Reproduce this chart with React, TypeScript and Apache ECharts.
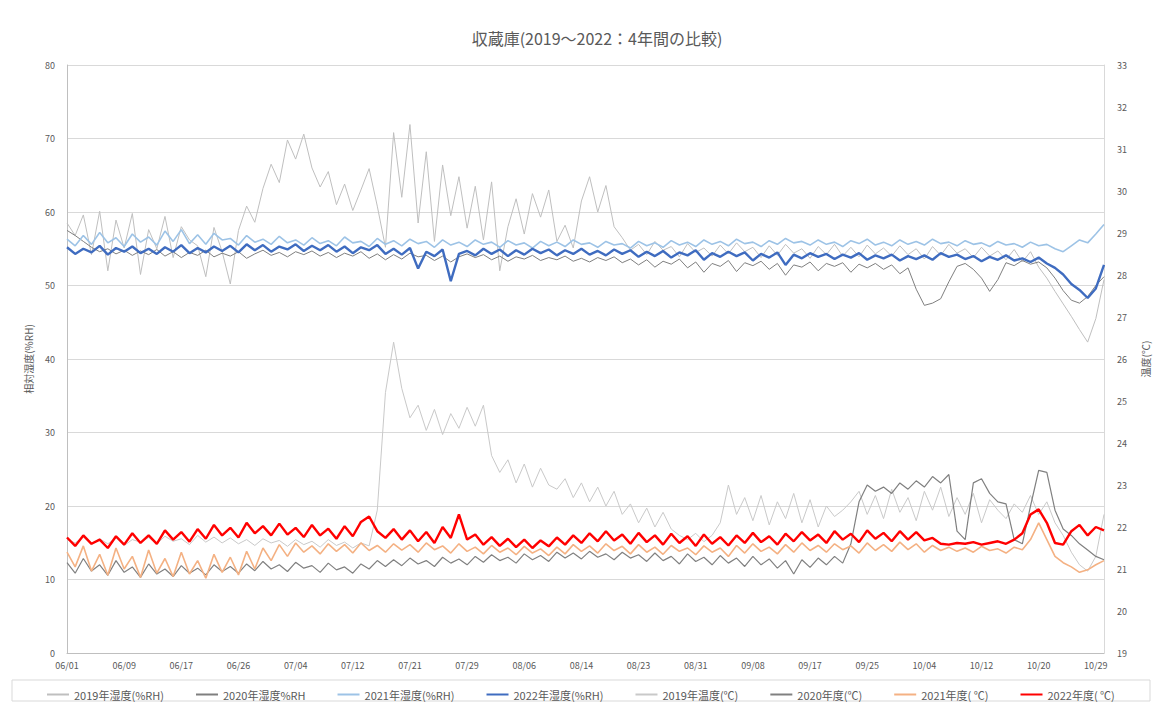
import React, { useEffect, useRef } from "react";
import * as echarts from "echarts";

const tickLabels = ["06/01","06/09","06/17","06/26","07/04","07/12","07/21","07/29","08/06","08/14","08/23","08/31","09/08","09/17","09/25","10/04","10/12","10/20","10/29"];
const POINTS = 128;

const hum2019 = [
  58.5, 56.8, 59.6, 54.2, 60.1, 52.0, 58.9, 55.1, 59.8, 51.5,
  57.6, 55.0, 59.4, 53.8, 58.0, 56.2, 55.4, 51.2, 57.9, 54.6,
  50.2, 57.5, 60.8, 58.6, 63.2, 66.5, 64.0, 69.8, 67.2, 70.6,
  66.0, 63.4, 65.5, 61.0, 63.8, 60.2, 63.0, 65.9, 60.8, 55.2,
  70.8, 62.0, 71.9, 58.5, 68.2, 56.0, 66.4, 59.5, 64.8, 57.8,
  63.5, 56.2, 64.1, 52.0, 58.0, 61.8, 57.0, 62.5, 59.3, 63.0,
  56.0, 58.2, 55.1, 61.5, 64.8, 60.0, 63.6, 58.0, 56.5, 54.8,
  55.6, 54.2, 56.0, 54.8, 55.3, 53.9, 55.7, 54.5, 55.1, 54.0,
  55.5, 54.3, 55.8, 54.6, 55.2, 53.8, 55.4, 54.1, 55.6, 54.4,
  55.0, 53.7, 55.3, 54.2, 55.6, 54.0, 55.2, 53.9, 55.5, 54.3,
  55.1, 54.0, 55.4, 54.2, 55.0, 53.6, 55.3, 54.1, 55.6, 54.4,
  55.0, 53.8, 55.2, 54.0, 54.7, 53.5, 54.9, 53.2, 54.6, 52.5,
  51.0, 49.2, 47.5, 45.8, 44.0, 42.3, 45.5, 50.8
];

const hum2020 = [
  57.5, 56.8, 56.0, 55.2, 54.6, 55.0, 54.3, 54.8, 54.1, 54.7,
  54.2, 54.9, 54.0, 54.6, 53.8, 54.5, 54.1, 54.8, 53.9, 54.4,
  54.0, 54.6, 53.7, 54.3, 54.8, 54.1, 54.5, 53.9, 54.6, 54.2,
  54.7, 54.0, 54.5, 53.8, 54.4, 54.0, 54.6, 53.7, 54.3, 53.5,
  54.2, 53.6, 54.4, 53.9, 54.1, 53.4, 54.0, 53.2, 53.9, 54.3,
  53.8, 54.2, 53.5, 54.0, 53.3, 53.9, 53.6, 54.1, 53.4, 53.8,
  53.5, 54.0, 53.3, 53.7, 53.2, 53.8, 53.4, 53.9, 53.1, 53.6,
  52.8, 53.5, 52.5, 53.3, 52.9, 53.6, 52.4, 53.2, 51.8, 53.0,
  52.6, 53.4, 51.9, 53.1, 52.7, 53.3, 52.2, 53.0, 51.4, 52.8,
  52.5, 53.2, 52.0, 53.0, 52.6, 53.1, 51.8, 52.9, 52.4, 53.0,
  52.2, 52.8, 51.6, 52.4, 49.5, 47.3, 47.6, 48.2, 50.5, 52.6,
  53.0, 52.2, 51.0, 49.2, 50.8, 53.1, 52.7, 53.4, 52.9, 53.2,
  52.4, 51.0, 49.3, 48.0, 47.6, 48.5, 50.0, 51.2
];

const hum2021 = [
  56.3, 55.4, 56.8, 55.6, 57.2, 55.8, 56.5, 55.3, 57.0, 55.9,
  56.6, 55.5, 57.4, 56.0, 57.6, 55.7, 56.9, 55.6, 57.1, 56.2,
  56.4, 55.5, 56.8, 55.9, 56.3, 55.6, 56.7, 55.8, 56.2, 55.5,
  56.5, 55.7, 56.1, 55.4, 56.6, 55.8, 56.0, 55.3, 56.4, 55.6,
  56.1, 55.4, 56.3, 55.7, 56.0, 55.2, 56.2, 55.5, 55.9, 55.3,
  56.2, 55.6, 55.9, 55.2, 56.1, 55.5, 55.8, 55.1, 56.0, 55.4,
  55.9, 55.3, 56.2, 55.6, 55.8, 55.2, 56.0, 55.5, 55.7, 55.1,
  56.0, 55.4, 55.8, 55.2, 56.1, 55.5, 55.9, 55.3, 56.2, 55.6,
  56.0, 55.4, 56.3, 55.7, 55.9, 55.3, 56.1, 55.6, 56.4, 55.8,
  56.0, 55.5, 56.2, 55.6, 55.9, 55.3, 56.1, 55.7, 56.3, 55.5,
  55.9, 55.4, 56.2, 55.6, 56.0, 55.5, 56.3, 55.7, 55.9, 55.4,
  56.1, 55.6, 55.8, 55.3, 56.0, 55.5, 55.7, 55.2, 55.9, 55.4,
  55.6, 55.0, 54.6, 55.4, 56.2, 55.8, 57.0, 58.3
];

const hum2022 = [
  55.2, 54.3, 55.0, 54.5, 55.4, 54.2, 55.1, 54.6, 55.3, 54.4,
  55.0, 54.3, 55.2, 54.6, 55.5, 54.4, 55.1, 54.5, 55.3, 54.7,
  55.4, 54.5, 55.6, 54.8, 55.5, 54.6, 55.3, 54.9, 55.6, 54.7,
  55.4, 54.8, 55.5, 54.6, 55.3, 54.4, 55.2, 54.8, 55.5, 54.3,
  55.0, 54.2, 55.1, 52.3, 54.6, 54.0, 54.9, 50.6, 54.3, 54.7,
  54.1, 55.0, 54.3, 54.9, 54.0, 54.8, 54.2, 55.0, 54.4, 54.9,
  54.1, 54.8, 54.3, 55.0, 54.2, 54.7, 54.1, 54.9, 54.3, 54.8,
  53.9, 54.6, 54.0, 54.7, 53.8, 54.5, 54.1, 54.8, 53.5, 54.4,
  53.9, 54.6, 54.0, 54.5, 53.4, 54.3, 53.8, 54.5, 52.8, 54.2,
  53.7, 54.4, 53.9, 54.3, 53.6, 54.2, 53.8, 54.4, 53.5, 54.1,
  53.7, 54.2, 53.4, 54.0, 53.6, 54.1, 53.5, 54.4, 53.9, 54.2,
  53.6, 54.0, 53.3, 53.9, 53.5, 54.1, 53.4, 53.7, 53.2, 53.8,
  53.0, 52.4, 51.5, 50.2, 49.4, 48.3, 49.6, 52.8
];

const temp2019 = [
  21.70, 21.62, 21.76, 21.58, 21.72, 21.60, 21.74, 21.56, 21.70, 21.64,
  21.75, 21.60, 21.78, 21.66, 21.72, 21.58, 21.80, 21.64, 21.76, 21.62,
  21.74, 21.60, 21.70, 21.56, 21.72, 21.62, 21.68, 21.54, 21.70, 21.58,
  21.66, 21.52, 21.70, 21.56, 21.64, 21.50, 21.62, 21.55, 22.40, 25.20,
  26.40, 25.30, 24.60, 24.90, 24.30, 24.80, 24.20, 24.70, 24.35, 24.85,
  24.40, 24.90, 23.70, 23.30, 23.60, 23.05, 23.50, 22.95, 23.40, 23.00,
  22.90, 23.15, 22.70, 23.05, 22.60, 22.95, 22.50, 22.85, 22.30, 22.55,
  22.10, 22.45, 22.00, 22.35, 21.95, 21.80, 21.70, 21.85, 21.65, 21.80,
  22.10, 23.00, 22.30, 22.70, 22.15, 22.75, 22.05, 22.60, 22.20, 22.80,
  22.10, 22.65, 22.00, 22.50, 22.25, 22.40, 22.60, 22.85, 22.30, 22.75,
  22.20, 22.90, 22.35, 22.70, 22.15, 22.85, 22.40, 22.95, 22.25, 22.70,
  22.30, 22.80, 22.10, 22.65, 22.40, 22.20, 22.55, 22.35, 22.75, 22.30,
  22.60, 22.10, 21.80, 21.40, 21.10, 20.95, 21.30, 22.30
];

const temp2020 = [
  21.15, 20.90, 21.25, 20.95, 21.10, 20.85, 21.20, 20.92, 21.05, 20.80,
  21.12, 20.88, 21.00, 20.82, 21.08, 20.90, 21.02, 20.86, 21.10, 20.94,
  21.06, 20.90, 21.12, 20.96, 21.18, 21.00, 21.10, 20.94, 21.16, 21.02,
  21.08, 20.92, 21.14, 20.98, 21.05, 20.90, 21.12, 21.00, 21.20, 21.06,
  21.22, 21.08, 21.26, 21.12, 21.20, 21.06, 21.28, 21.14, 21.24, 21.10,
  21.30, 21.16, 21.34, 21.20, 21.28, 21.14, 21.36, 21.22, 21.32, 21.18,
  21.40, 21.26, 21.38, 21.24, 21.42, 21.28, 21.36, 21.22, 21.40, 21.26,
  21.34, 21.18, 21.38, 21.20, 21.30, 21.12, 21.36, 21.18, 21.28, 21.10,
  21.32, 21.14, 21.26, 21.06, 21.30, 21.10, 21.24, 21.02, 21.20, 20.88,
  21.22, 21.04, 21.26, 21.10, 21.30, 21.14, 21.60, 22.60, 23.00, 22.85,
  22.95, 22.80, 23.05, 22.90, 23.10, 22.95, 23.20, 23.05, 23.25, 21.90,
  21.70, 23.05, 23.15, 22.80, 22.60, 22.55, 21.70, 21.60, 22.50, 23.35,
  23.30, 22.40, 21.95, 21.80, 21.60, 21.45, 21.30, 21.22
];

const temp2021 = [
  21.40, 21.05, 21.55, 20.95, 21.35, 20.85, 21.50, 21.00, 21.30, 20.80,
  21.45, 20.90, 21.25, 20.82, 21.40, 20.88, 21.20, 20.78, 21.35, 20.92,
  21.28, 20.86, 21.42, 21.00, 21.50, 21.20, 21.58, 21.30, 21.62, 21.40,
  21.55, 21.36, 21.60, 21.42, 21.58, 21.38, 21.62, 21.44, 21.56, 21.40,
  21.60, 21.45, 21.58, 21.40, 21.62, 21.46, 21.55, 21.38, 21.60, 21.42,
  21.52, 21.36, 21.56, 21.40, 21.50, 21.34, 21.54, 21.38, 21.48, 21.32,
  21.52, 21.36, 21.58, 21.42, 21.55, 21.38, 21.60, 21.44, 21.54, 21.36,
  21.58, 21.40, 21.52, 21.35, 21.56, 21.42, 21.50, 21.34, 21.55, 21.40,
  21.50, 21.30, 21.56, 21.38, 21.60, 21.42, 21.52, 21.36, 21.58, 21.40,
  21.62, 21.44, 21.56, 21.40, 21.60, 21.46, 21.55, 21.38, 21.62, 21.44,
  21.58, 21.42, 21.64, 21.46, 21.60, 21.40, 21.56, 21.44, 21.52, 21.42,
  21.50, 21.40, 21.54, 21.44, 21.48, 21.38, 21.52, 21.46, 21.70, 22.10,
  21.70, 21.30, 21.15, 21.05, 20.92, 20.98, 21.10, 21.20
];

const temp2022 = [
  21.75, 21.55, 21.80, 21.60, 21.70, 21.50, 21.78, 21.58, 21.85, 21.62,
  21.80, 21.60, 21.92, 21.70, 21.88, 21.65, 21.95, 21.72, 22.05, 21.80,
  21.98, 21.75, 22.10, 21.85, 22.02, 21.80, 22.08, 21.82, 21.98, 21.76,
  22.05, 21.80, 21.96, 21.72, 22.02, 21.78, 22.12, 22.25, 21.90, 21.74,
  21.95, 21.70, 21.92, 21.66, 21.88, 21.62, 22.00, 21.74, 22.30, 21.70,
  21.82, 21.58, 21.76, 21.55, 21.72, 21.52, 21.70, 21.50, 21.68, 21.54,
  21.75, 21.58, 21.80, 21.62, 21.85, 21.66, 21.90, 21.68, 21.82, 21.60,
  21.86, 21.64, 21.80, 21.58, 21.84, 21.62, 21.78, 21.55, 21.82, 21.60,
  21.76, 21.56, 21.80, 21.62, 21.86, 21.64, 21.78, 21.58, 21.84, 21.66,
  21.88, 21.68, 21.82, 21.62, 21.90, 21.70, 21.84, 21.64, 21.92, 21.72,
  21.86, 21.66, 21.90, 21.70, 21.88, 21.68, 21.74, 21.60, 21.58, 21.62,
  21.60, 21.64, 21.58, 21.62, 21.66, 21.60, 21.70, 21.85, 22.30, 22.42,
  22.10, 21.62, 21.58, 21.90, 22.05, 21.80, 22.00, 21.92
];

const seriesNames = ["2019年湿度(%RH)", "2020年湿度%RH", "2021年湿度(%RH)", "2022年湿度(%RH)", "2019年温度(℃)", "2020年度(℃)", "2021年度( ℃)", "2022年度( ℃)"];
const seriesColors = ["#BFBFBF", "#7F7F7F", "#9DC3E6", "#3F6CC0", "#C9C9C9", "#808080", "#F4B183", "#FF0000"];
const seriesWidths = [1, 1, 1.6, 2.4, 1, 1.2, 1.6, 2.4];
const seriesData = [hum2019, hum2020, hum2021, hum2022, temp2019, temp2020, temp2021, temp2022];

const FONT = "'Noto Sans CJK JP', 'Noto Sans', sans-serif";

export default function App() {
  const ref = useRef<HTMLDivElement>(null);
  useEffect(() => {
    if (!ref.current) return;
    const chart = echarts.init(ref.current, null, { renderer: "svg" });
    const categories: string[] = [];
    for (let i = 0; i < POINTS; i++) {
      const k = Math.floor(i / 7);
      categories.push(i % 7 === 0 ? tickLabels[k] : tickLabels[k] + "+" + (i % 7));
    }
    const option: any = {
      animation: false,
      backgroundColor: "#ffffff",
      textStyle: { fontFamily: FONT },
      title: {
        text: "収蔵庫(2019～2022：4年間の比較)",
        left: 592,
        textAlign: "center",
        top: 25,
        textStyle: { fontSize: 16, fontWeight: "normal", color: "#595959", fontFamily: FONT },
      },
      legend: {
        data: seriesNames,
        left: 42,
        top: 684,
        orient: "horizontal",
        icon: "rect",
        itemWidth: 22,
        itemHeight: 2,
        itemGap: 32,
        textStyle: { fontSize: 11, color: "#595959", fontFamily: FONT },
      },
      graphic: [
        {
          type: "rect",
          shape: { x: 12, y: 680, width: 1138, height: 21 },
          style: { fill: "none", stroke: "#D9D9D9", lineWidth: 1 },
          silent: true,
        },
      ],
      grid: { left: 67, right: 46, top: 65, bottom: 49, containLabel: false },
      xAxis: {
        type: "category",
        data: categories,
        boundaryGap: false,
        axisLine: { show: true, lineStyle: { color: "#BFBFBF" } },
        axisTick: { show: false },
        axisLabel: { interval: 6, fontSize: 9, color: "#595959", margin: 8, fontFamily: FONT },
        splitLine: { show: false },
      },
      yAxis: [
        {
          type: "value",
          min: 0,
          max: 80,
          interval: 10,
          name: "相対湿度(%RH)",
          nameLocation: "middle",
          nameGap: 34,
          nameTextStyle: { fontSize: 10, color: "#595959", fontFamily: FONT },
          axisLine: { show: true, lineStyle: { color: "#BFBFBF" } },
          axisTick: { show: false },
          axisLabel: { fontSize: 9, color: "#595959", margin: 12 },
          splitLine: { show: true, lineStyle: { color: "#D9D9D9", width: 1 } },
        },
        {
          type: "value",
          min: 19,
          max: 33,
          interval: 1,
          name: "温度(℃)",
          nameLocation: "middle",
          nameGap: 36,
          nameTextStyle: { fontSize: 10, color: "#595959", fontFamily: FONT },
          axisLine: { show: true, lineStyle: { color: "#D9D9D9" } },
          axisTick: { show: false },
          axisLabel: { fontSize: 9, color: "#595959", margin: 13 },
          splitLine: { show: false },
        },
      ],
      series: seriesNames.map((n, idx) => ({
        name: n,
        type: "line",
        yAxisIndex: idx < 4 ? 0 : 1,
        data: seriesData[idx],
        symbol: "none",
        showSymbol: false,
        lineStyle: { color: seriesColors[idx], width: seriesWidths[idx] },
        itemStyle: { color: seriesColors[idx] },
        z: 2 + idx,
      })),
    };
    chart.setOption(option);
    return () => chart.dispose();
  }, []);
  return (
    <div
      ref={ref}
      style={{ position: "fixed", left: 0, top: 0, width: 1158, height: 702, background: "#fff" }}
    />
  );
}
